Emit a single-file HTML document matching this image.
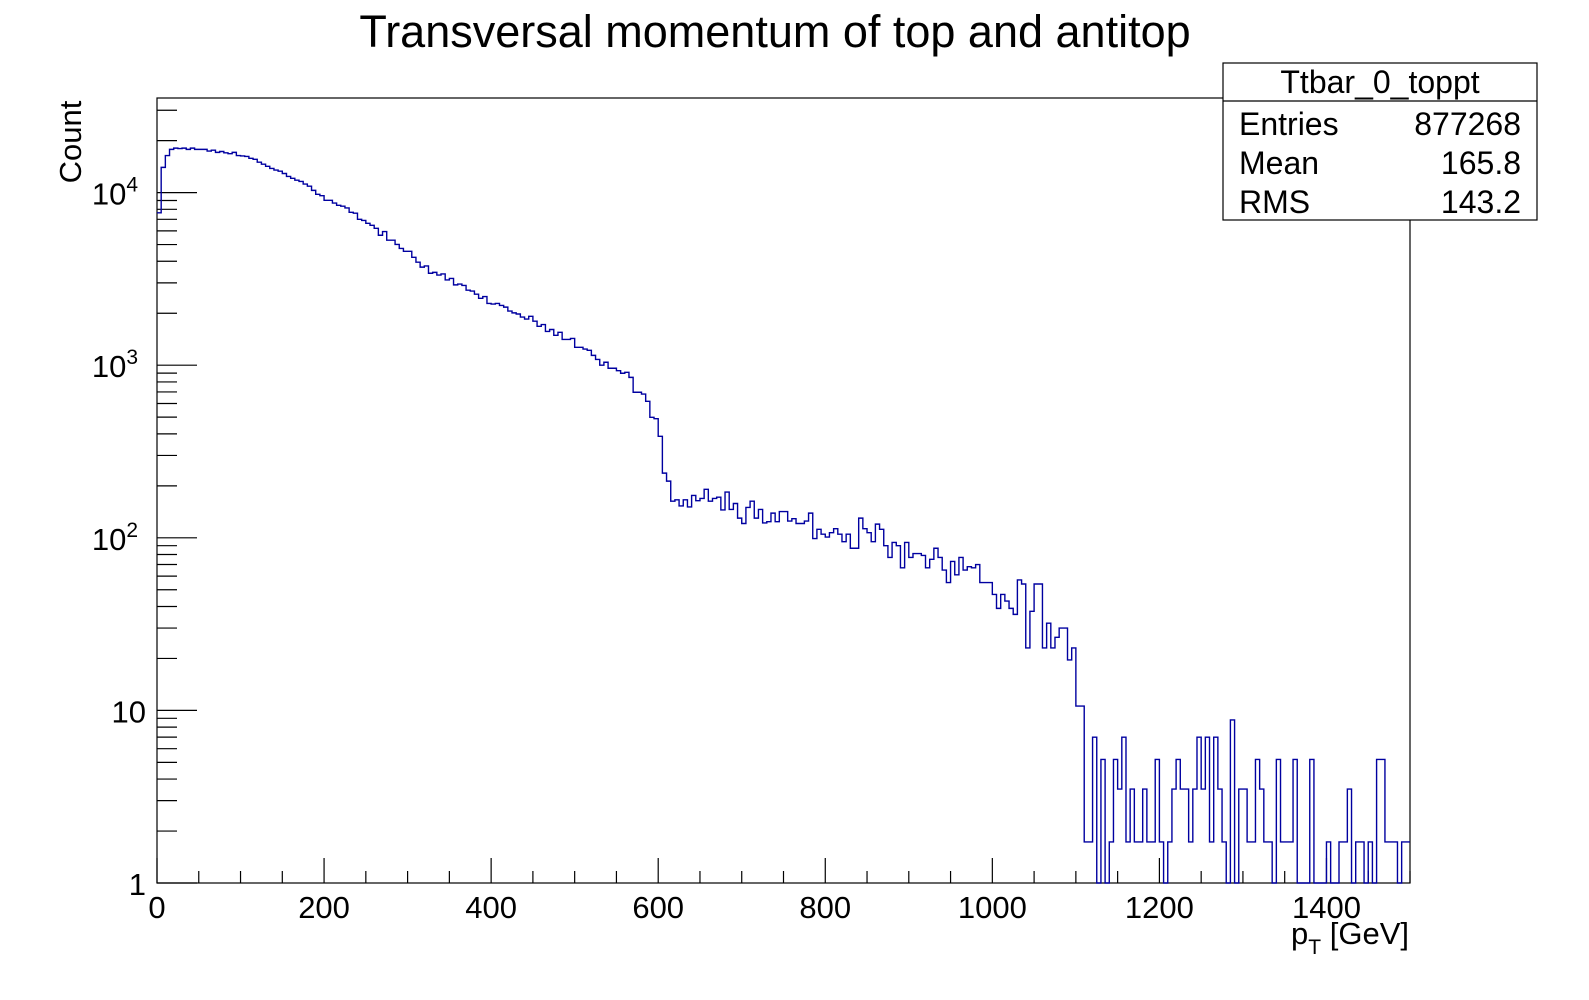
<!DOCTYPE html>
<html><head><meta charset="utf-8"><style>
body{margin:0;background:#fff;}
svg text{font-family:"Liberation Sans",Arial,sans-serif;fill:#000;}
</style></head><body>
<svg id="c" width="1589" height="995" viewBox="0 0 1589 995" xmlns="http://www.w3.org/2000/svg">
<rect x="0" y="0" width="1589" height="995" fill="#fff"/>
<text x="775" y="47" font-size="45" text-anchor="middle">Transversal momentum of top and antitop</text>
<rect x="157" y="98" width="1253" height="785" fill="none" stroke="#000" stroke-width="1.2"/>
<g id="ticks"></g>
<path id="hist" fill="none" stroke="#0000a0" stroke-width="1.4"/>
<text transform="translate(81,142) rotate(-90)" font-size="31" text-anchor="middle">Count</text>
<text x="1409" y="944" font-size="31" text-anchor="end">p<tspan font-size="21" dy="10">T</tspan><tspan dy="-10"> [GeV]</tspan></text>
<g>
<rect x="1223" y="63" width="314" height="157" fill="#fff" stroke="#000" stroke-width="1.2"/>
<line x1="1223" y1="101" x2="1537" y2="101" stroke="#000" stroke-width="1.2"/>
<text x="1380" y="93" font-size="32" text-anchor="middle">Ttbar_0_toppt</text>
<text x="1239" y="135" font-size="32">Entries</text>
<text x="1521" y="135" font-size="32" text-anchor="end">877268</text>
<text x="1239" y="174" font-size="32">Mean</text>
<text x="1521" y="174" font-size="32" text-anchor="end">165.8</text>
<text x="1239" y="213" font-size="32">RMS</text>
<text x="1521" y="213" font-size="32" text-anchor="end">143.2</text>
</g>
</svg>
<script>
const binWidth = 5;
const xTickValues = [0,200,400,600,800,1000,1200,1400];
const yTickExponents = [0,1,2,3,4];
const counts = [
7640,14000,16400,17800,18100,18000,18100,17800,18100,17800,
17800,17800,17400,17600,17100,17300,17000,16800,17100,16400,
16300,16200,15800,15600,15000,14600,14200,13800,13500,13300,
12900,12400,12100,11800,11600,11200,10900,10300,9780,9600,
9020,9020,8700,8440,8340,8150,7690,7600,7000,6900,
6640,6460,6210,5660,5950,5300,5300,5010,4750,
4570,4570,4220,3950,3700,3760,3410,3450,3330,3380,
3120,3180,2920,2950,2900,2720,2690,2580,2440,2500,
2280,2260,2280,2220,2170,2060,2010,1980,1900,1850,
1920,1800,1680,1720,1570,1610,1490,1550,1410,1410,
1430,1270,1270,1240,1220,1140,1080,1000,1040,960,
960,930,898,910,850,697,697,680,618,499,
490,387,237,213,
163,166,153,166,151,176,164,169,191,163,
169,172,145,184,146,158,130,121,150,163,
130,146,122,124,139,124,142,142,125,129,
121,121,125,139,99,112,105,101,107,113,
105,95,105,87,87,130,113,107,95,120,112,
90,77,94,90,67,94,77,81,81,79,
67,75,87,77,65,55,73,61,77,65,
68,67,70,55,55,55,
47,39,47,43,39,36,57,54,23,37.5,54,54,23,32,23,26.5,30,30,19.6,23,
10.6,10.6,1.73,1.73,7,0,5.2,0,1.73,5.2,
3.5,7,1.73,3.5,1.73,1.73,3.5,1.73,1.73,5.2,
1.73,0,1.73,3.5,5.2,3.5,3.5,1.73,3.5,7,
3.5,7,1.73,7,3.5,1.73,0,8.8,0,3.5,
3.5,1.73,1.73,5.2,3.5,1.73,1.73,0,5.2,1.73,
1.73,1.73,5.2,0,0,0,5.2,0,0,0,
1.73,0,0,1.73,1.73,3.5,0,1.73,1.73,0,
1.73,0,5.2,5.2,1.73,1.73,1.73,0,1.73,1.73
];
const X0=157, X1=1410, Y0=883, Y1=98, XMAX=1500, LOGMAX=(883-98)/172.6;
function xs(v){return X0+(v/XMAX)*(X1-X0);}
function ys(v){ if(v<=1) return Y0; return Y0-(Math.log10(v)/LOGMAX)*(Y0-Y1);}
const NS="http://www.w3.org/2000/svg";
const g=document.getElementById('ticks');
function line(x1,y1,x2,y2,name){const l=document.createElementNS(NS,'line');
l.setAttribute('x1',x1);l.setAttribute('y1',y1);l.setAttribute('x2',x2);l.setAttribute('y2',y2);
l.setAttribute('stroke','#000');l.setAttribute('stroke-width','1.2');


g.appendChild(l);}
for(let v=0; v<=XMAX; v+=50){ const major=(v%200===0); line(xs(v),Y0,xs(v),Y0-(major?25:12),major?'x-major-tick':'x-minor-tick'); }
xTickValues.forEach(v=>{const t=document.createElementNS(NS,'text');
t.setAttribute('x',xs(v));t.setAttribute('y',918);t.setAttribute('font-size','31');t.setAttribute('text-anchor','middle');
t.textContent=v;


g.appendChild(t);});
for(let e=0;e<=4;e++){ for(let m=1;m<=9;m++){ const v=m*Math.pow(10,e); if(Math.log10(v)>LOGMAX) break;
 line(X0,ys(v),X0+(m===1?40:20),ys(v),m===1?'y-major-tick':'y-minor-tick'); } }
yTickExponents.forEach(e=>{const t=document.createElementNS(NS,'text');
t.setAttribute('x',e>=2?138:146);t.setAttribute('y',ys(Math.pow(10,e))+12);t.setAttribute('font-size','31');t.setAttribute('text-anchor','end');
if(e===0) t.textContent='1'; else if(e===1) t.textContent='10';
else { t.textContent='10'; const s=document.createElementNS(NS,'tspan'); s.setAttribute('font-size','21'); s.setAttribute('dy','-13'); s.textContent=String(e); t.appendChild(s); }


g.appendChild(t);});
let d='M'+xs(0)+','+ys(counts[0]);
counts.forEach((c,i)=>{ if(i>0) d+=' V'+ys(c).toFixed(2); d+=' H'+xs((i+1)*binWidth).toFixed(2); });
document.getElementById('hist').setAttribute('d',d);
</script>
</body></html>
